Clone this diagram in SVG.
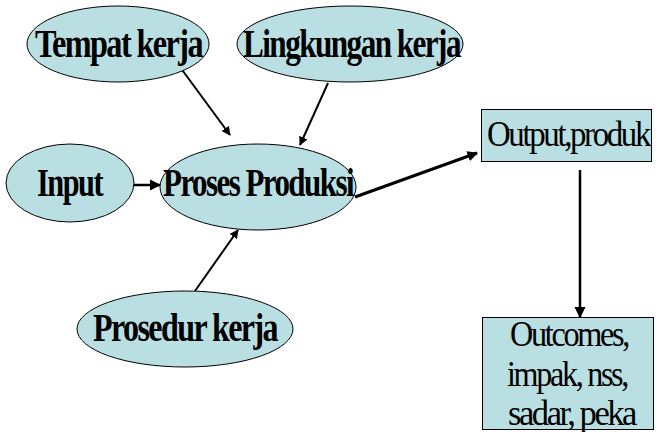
<svg xmlns="http://www.w3.org/2000/svg" width="656" height="432" viewBox="0 0 656 432">
<style>
.n{fill:#B9DFE3;stroke:#000;stroke-width:1}
.c{stroke:#000;fill:none}
.b{font-family:'Liberation Serif',serif;font-weight:bold;font-size:40px;fill:#000;letter-spacing:-2px}
.r{font-family:'Liberation Serif',serif;font-size:35px;fill:#000;letter-spacing:-2.5px}
</style>
<defs>
<marker id="ah" viewBox="0 0 10 10" refX="9" refY="5" markerWidth="4.5" markerHeight="4.5" markerUnits="strokeWidth" orient="auto">
<path d="M0,0 L10,5 L0,10 z" fill="#000"/>
</marker>
<marker id="ah2" viewBox="0 0 10 10" refX="9" refY="5" markerWidth="3.5" markerHeight="3.5" markerUnits="strokeWidth" orient="auto">
<path d="M0,0 L10,5 L0,10 z" fill="#000"/>
</marker>
</defs>
<g id="connectors">
<line class="c" x1="180" y1="67" x2="230" y2="135" stroke-width="2" marker-end="url(#ah)"/>
<line class="c" x1="328" y1="83" x2="300" y2="145" stroke-width="2" marker-end="url(#ah)"/>
<line class="c" x1="133" y1="185" x2="160" y2="185" stroke-width="2.5" marker-end="url(#ah)"/>
<line class="c" x1="355" y1="197" x2="477" y2="153" stroke-width="3" marker-end="url(#ah2)"/>
<line class="c" x1="195" y1="291" x2="238" y2="230" stroke-width="2" marker-end="url(#ah)"/>
<line class="c" x1="580" y1="170" x2="580" y2="317" stroke-width="2.5" marker-end="url(#ah)"/>
</g>
<g id="tempat-kerja">
<ellipse class="n" cx="118" cy="44" rx="91" ry="38"/>
<text class="b" x="35" y="57" textLength="167" lengthAdjust="spacingAndGlyphs">Tempat kerja</text>
</g>
<g id="lingkungan-kerja">
<ellipse class="n" cx="350" cy="44" rx="113" ry="38"/>
<text class="b" x="243" y="57" textLength="217" lengthAdjust="spacingAndGlyphs">Lingkungan kerja</text>
</g>
<g id="input">
<ellipse class="n" cx="70" cy="183" rx="64" ry="39"/>
<text class="b" x="37" y="196" textLength="65" lengthAdjust="spacingAndGlyphs">Input</text>
</g>
<g id="proses-produksi">
<ellipse class="n" cx="258" cy="187" rx="98" ry="43"/>
<text class="b" x="163" y="196" textLength="190" lengthAdjust="spacingAndGlyphs">Proses Produksi</text>
</g>
<g id="prosedur-kerja">
<ellipse class="n" cx="185" cy="329" rx="108" ry="38"/>
<text class="b" x="93" y="341" textLength="184" lengthAdjust="spacingAndGlyphs">Prosedur kerja</text>
</g>
<g id="output-produk">
<rect class="n" x="481.5" y="109.5" width="170" height="52"/>
<text class="r" x="487" y="146" textLength="162" lengthAdjust="spacingAndGlyphs">Output,produk</text>
</g>
<g id="outcomes">
<rect class="n" x="482.5" y="317.5" width="171" height="112"/>
<text class="r" x="510" y="346" textLength="118" lengthAdjust="spacingAndGlyphs">Outcomes,</text>
<text class="r" x="507" y="386" textLength="120" lengthAdjust="spacingAndGlyphs">impak, nss,</text>
<text class="r" x="508" y="425" textLength="127" lengthAdjust="spacingAndGlyphs">sadar, peka</text>
</g>
</svg>
